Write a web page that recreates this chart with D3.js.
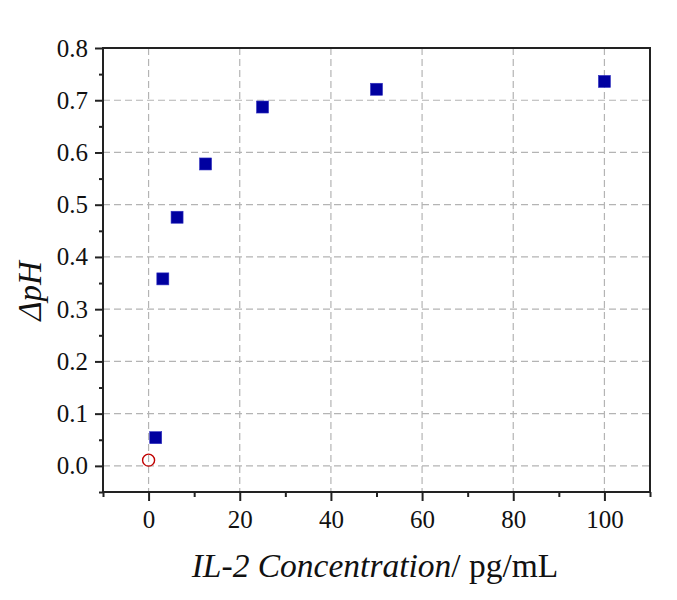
<!DOCTYPE html>
<html><head><meta charset="utf-8">
<script src="https://cdn.jsdelivr.net/npm/d3@7"></script>
<style>body{margin:0;background:#fff}svg{display:block}</style>
</head><body>
<svg id="chart" width="677" height="600" font-family="Liberation Serif"></svg>
<script>
const concentrations = [1.5625, 3.125, 6.25, 12.5, 25, 50, 100];
const deltaPH = [0.054, 0.358, 0.476, 0.578, 0.687, 0.721, 0.736];
const blankConc = [0];
const blankPH = [0.011];
const xTicks = [0, 20, 40, 60, 80, 100];
const yTicks = [0.0, 0.1, 0.2, 0.3, 0.4, 0.5, 0.6, 0.7, 0.8];

const W = 677, H = 600;
const m = {l: 103, r: 27, t: 48, b: 108};
const svg = d3.select("#chart");
const x = d3.scaleLinear().domain([-10, 110]).range([m.l, W - m.r]);
const y = d3.scaleLinear().domain([-0.05, 0.8]).range([H - m.b, m.t]);
const FONT = "Liberation Serif";

// grid
const g = svg.append("g");
g.selectAll(".gx").data(xTicks).enter().append("line")
  .attr("x1", d => x(d)).attr("x2", d => x(d)).attr("y1", m.t).attr("y2", H - m.b)
  .attr("stroke", "#b4b4b4").attr("stroke-width", 1.2).attr("stroke-dasharray", "7,4");
g.selectAll(".gy").data(yTicks).enter().append("line")
  .attr("y1", d => y(d)).attr("y2", d => y(d)).attr("x1", m.l).attr("x2", W - m.r)
  .attr("stroke", "#b4b4b4").attr("stroke-width", 1.2).attr("stroke-dasharray", "7,4");

// frame
svg.append("rect").attr("x", m.l).attr("y", m.t).attr("width", W - m.r - m.l).attr("height", H - m.b - m.t)
  .attr("fill", "none").attr("stroke", "#222").attr("stroke-width", 2);

// axes
const xAxis = d3.axisBottom(x).tickValues(xTicks).tickSize(9).tickPadding(9).tickFormat(d3.format("d"));
const xMinor = d3.axisBottom(x).tickValues(d3.range(-10, 111, 10).filter(v => !xTicks.includes(v))).tickSize(5).tickFormat("");
const yAxis = d3.axisLeft(y).tickValues(yTicks).tickSize(8).tickPadding(7).tickFormat(d3.format(".1f"));
const yMinor = d3.axisLeft(y).tickValues(d3.range(-0.05, 0.8, 0.1)).tickSize(4).tickFormat("");

function styleAxis(sel) {
  sel.attr("font-family", FONT).attr("font-size", 25);
  sel.select(".domain").remove();
  sel.selectAll("line").attr("stroke", "#222").attr("stroke-width", 2);
  sel.selectAll("text").attr("fill", "#111").attr("font-family", FONT);
}
svg.append("g").attr("transform", `translate(0,${H - m.b})`).call(xAxis).call(styleAxis);
svg.append("g").attr("transform", `translate(0,${H - m.b})`).call(xMinor).call(styleAxis);
svg.append("g").attr("transform", `translate(${m.l},0)`).call(yAxis).call(styleAxis);
svg.append("g").attr("transform", `translate(${m.l},0)`).call(yMinor).call(styleAxis);

// data
const s = 12;
svg.selectAll(".pt").data(concentrations.map((c, i) => [c, deltaPH[i]])).enter().append("rect")
  .attr("x", d => x(d[0]) - s / 2).attr("y", d => y(d[1]) - s / 2)
  .attr("width", s).attr("height", s).attr("fill", "#0000a0").attr("stroke", "#3030c0").attr("stroke-width", 0.6);
svg.selectAll(".bl").data(blankConc.map((c, i) => [c, blankPH[i]])).enter().append("circle")
  .attr("cx", d => x(d[0])).attr("cy", d => y(d[1])).attr("r", 6)
  .attr("fill", "none").attr("stroke", "#c00000").attr("stroke-width", 1.4);

// labels
const xl = svg.append("text").attr("x", 375).attr("y", 577).attr("text-anchor", "middle")
  .attr("font-family", FONT).attr("font-size", 33.5).attr("fill", "#111");
xl.append("tspan").attr("font-style", "italic").text("IL-2 Concentration");
xl.append("tspan").text("/ pg/mL");

svg.append("text").attr("transform", `translate(41,291) rotate(-90)`).attr("text-anchor", "middle")
  .attr("font-family", FONT).attr("font-size", 33).attr("font-style", "italic").attr("fill", "#111")
  .text("ΔpH");
</script>
</body></html>
